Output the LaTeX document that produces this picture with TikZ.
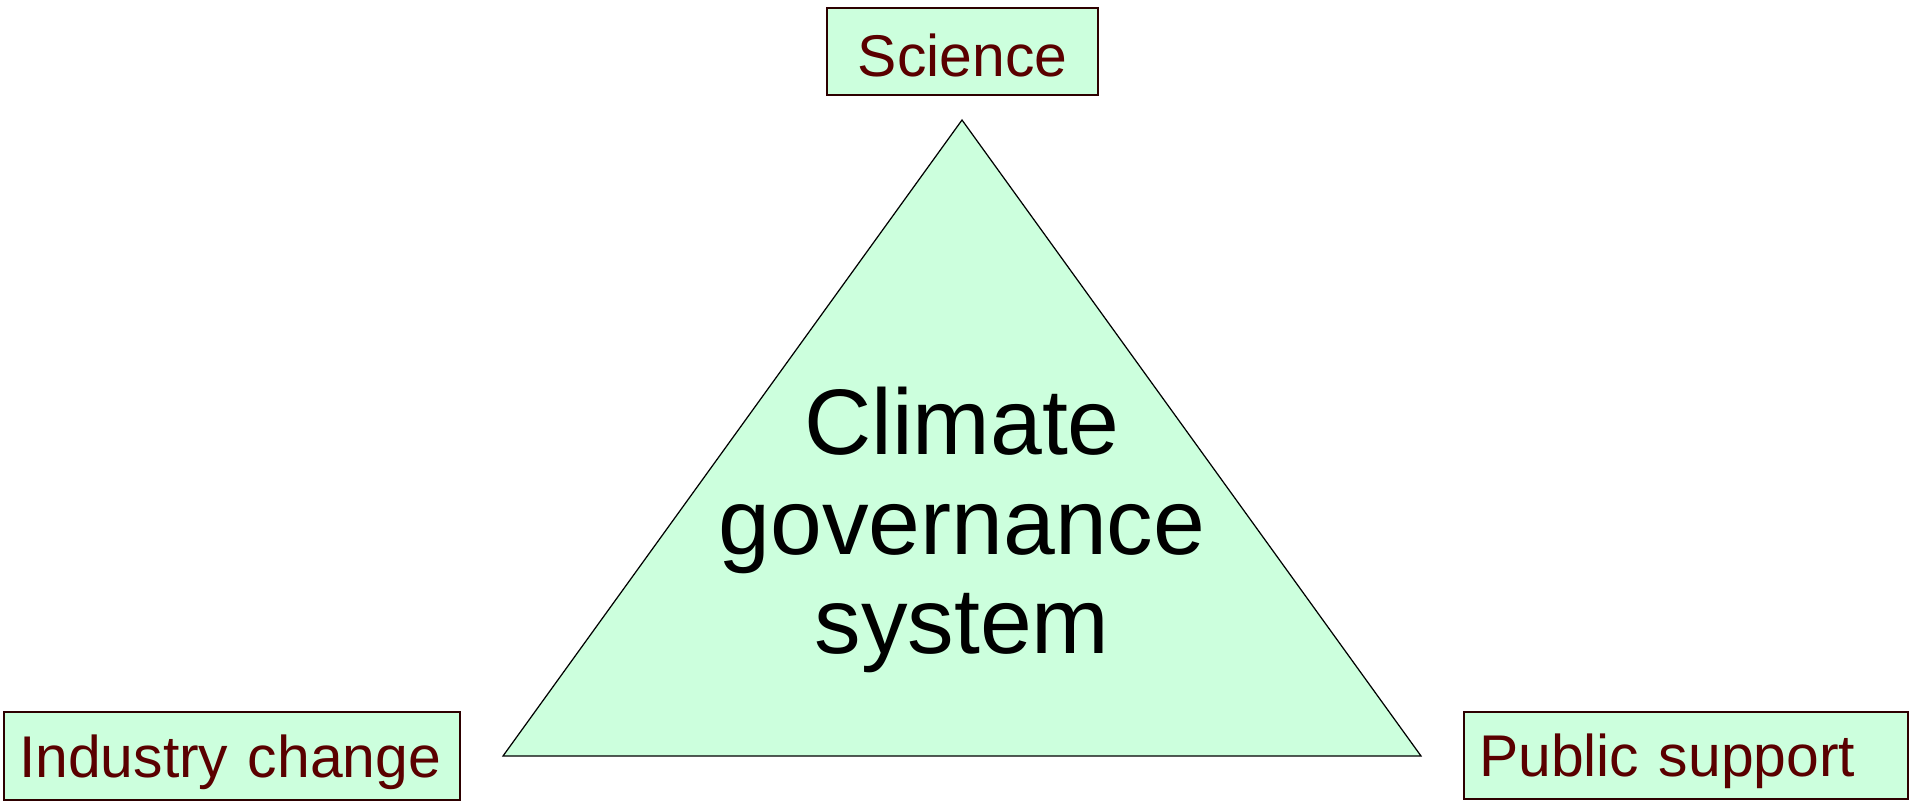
\documentclass[tikz,border=0pt]{standalone}
\usepackage{fontspec}
\setmainfont{Liberation Sans}

\definecolor{mint}{RGB}{204,255,221}
\definecolor{factortext}{RGB}{90,0,0}
\definecolor{factoredge}{RGB}{45,0,0}

\tikzset{
  factor/.style={draw=factoredge, line width=1pt, fill=mint, text=factortext,
    font=\fontsize{33.5}{36}\selectfont, minimum height=1.75cm,
    inner xsep=0.3cm, inner ysep=0pt, text height=24.1pt, text depth=0pt, align=left},
  governance/.style={draw=black, line width=0.7pt, fill=mint},
  governancetext/.style={font=\fontsize{53}{56.6}\selectfont, align=center, text=black}
}

\begin{document}
\begin{tikzpicture}[x=0.02cm, y=-0.02cm]
\useasboundingbox (0,0) rectangle (1909,801);

% the system in the middle
\coordinate (Top) at (962,120);
\coordinate (Left) at (503,756);
\coordinate (Right) at (1421,756);
\draw[governance] (Top) -- (Left) -- (Right) -- cycle;
\node[governancetext] (Governance) at (962,530) {Climate\\governance\\system};

% the three drivers
\node[factor, text width=4.82cm, align=center, text height=28pt] (Science) at (962.5,51.5) {Science};
\node[factor, text width=8.52cm] (Industry) at (232,756) {Industry change};
\node[factor, text width=8.28cm] (Public) at (1686,755.5) {Public support};
\end{tikzpicture}
\end{document}
